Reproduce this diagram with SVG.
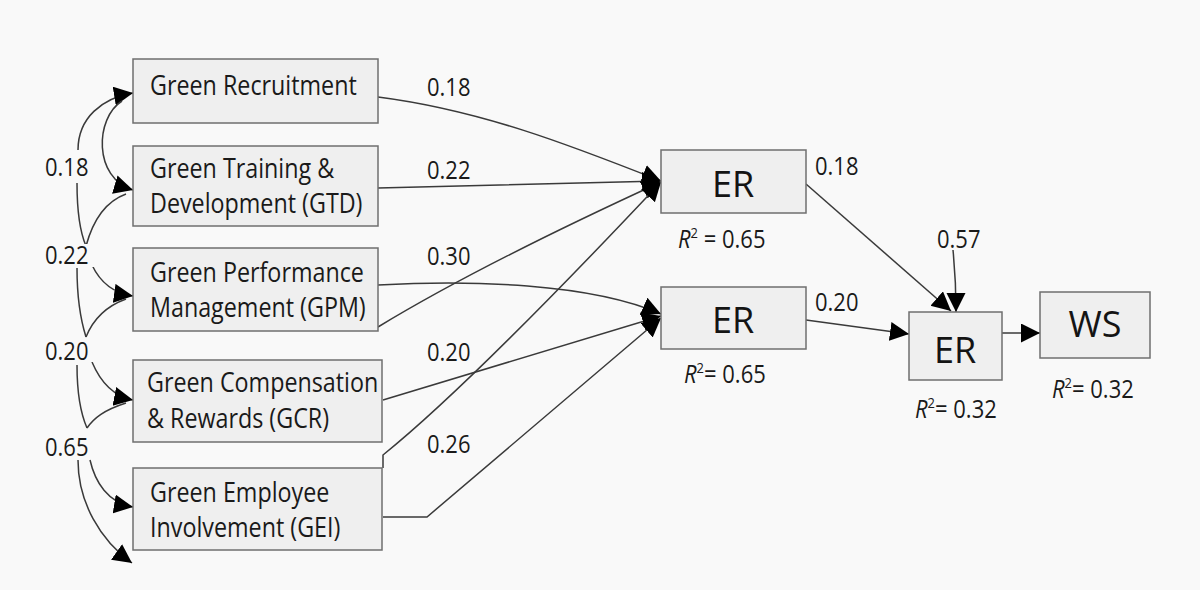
<svg xmlns="http://www.w3.org/2000/svg" width="1200" height="590" viewBox="0 0 1200 590">
<style>
.box{fill:#efefef;stroke:#6f6f6f;stroke-width:1.5}
.t{font-family:"Open Sans","Noto Sans","DejaVu Sans",sans-serif;font-size:23.3px;fill:#1a1a1a}
.big{font-family:"Open Sans","Noto Sans","DejaVu Sans",sans-serif;font-size:36px;fill:#141414;text-anchor:middle}
.n{font-family:"Open Sans","Noto Sans","DejaVu Sans",sans-serif;font-size:22px;fill:#1a1a1a}
.c{fill:none;stroke:#3a3a3a;stroke-width:1.5}
.lb{fill:#f9f9f9}
</style>
<defs>
<marker id="ah" markerUnits="userSpaceOnUse" markerWidth="20" markerHeight="20" refX="19" refY="9.5" orient="auto">
<path d="M0,0 L19,9.5 L0,19 z" fill="#000"/>
</marker>
</defs>
<rect width="1200" height="590" fill="#f9f9f9"/>

<g id="connectors">
<path class="c" d="M78,150 C78,118 102,98 133,93" marker-end="url(#ah)"/>
<path class="c" d="M122,101 C95,118 93,178 133,190" marker-end="url(#ah)"/>
<path class="c" d="M77,183 C77,212 80,232 86,246"/>
<path class="c" d="M126,194 C104,202 92,224 86,246"/>
<path class="c" d="M92,265 C100,282 112,293 133,296" marker-end="url(#ah)"/>
<path class="c" d="M77,268 C77,296 80,318 86,337"/>
<path class="c" d="M126,299 C104,307 92,322 86,337"/>
<path class="c" d="M92,362 C100,381 112,396 133,400" marker-end="url(#ah)"/>
<path class="c" d="M77,365 C77,392 80,412 87,428"/>
<path class="c" d="M126,403 C104,410 94,418 87,428"/>
<path class="c" d="M90,460 C95,482 108,503 133,507" marker-end="url(#ah)"/>
<path class="c" d="M78,460 C78,502 100,540 132,563" marker-end="url(#ah)"/>
<path class="c" d="M378,97 C480,110 570,145 661,181" marker-end="url(#ah)"/>
<path class="c" d="M378,188 C480,186 570,183 661,181" marker-end="url(#ah)"/>
<path class="c" d="M378,327 Q480,265 661,182" marker-end="url(#ah)"/>
<path class="c" d="M383,468 L383,455 Q470,385 661,182" marker-end="url(#ah)"/>
<path class="c" d="M378,285 C470,280 590,283 661,314" marker-end="url(#ah)"/>
<path class="c" d="M383,400 L661,316" marker-end="url(#ah)"/>
<path class="c" d="M383,517 L427,517 L661,318" marker-end="url(#ah)"/>
<path class="c" d="M806,184 L951,311" marker-end="url(#ah)"/>
<path class="c" d="M953,250 C955,270 956,288 956,312" marker-end="url(#ah)"/>
<path class="c" d="M806,320 L909,334" marker-end="url(#ah)"/>
<path class="c" d="M1002,333 L1040,333" marker-end="url(#ah)"/>
</g>

<g id="corr-labels">
<rect class="lb" x="44" y="150" width="50" height="32"/>
<text class="n" font-size="23" transform="translate(45,176) scale(1,1.15)">0.18</text>
<rect class="lb" x="44" y="244" width="50" height="23"/>
<text class="n" font-size="23" transform="translate(45,264) scale(1,1.15)">0.22</text>
<rect class="lb" x="44" y="338" width="50" height="24"/>
<text class="n" font-size="23" transform="translate(45,360) scale(1,1.15)">0.20</text>
<rect class="lb" x="44" y="434" width="50" height="25"/>
<text class="n" font-size="23" transform="translate(45,456) scale(1,1.15)">0.65</text>
</g>

<g id="GR">
<rect class="box" x="133" y="59" width="245" height="64"/>
<text class="t" transform="translate(150,95) scale(1,1.17)">Green Recruitment</text>
</g>
<g id="GTD">
<rect class="box" x="133" y="146" width="245" height="80"/>
<text class="t" transform="translate(150,178) scale(1,1.17)">Green Training &amp;</text>
<text class="t" transform="translate(150,213) scale(1,1.17)">Development (GTD)</text>
</g>
<g id="GPM">
<rect class="box" x="133" y="248" width="245" height="83"/>
<text class="t" transform="translate(150,282) scale(1,1.17)">Green Performance</text>
<text class="t" transform="translate(150,317) scale(1,1.17)">Management (GPM)</text>
</g>
<g id="GCR">
<rect class="box" x="133" y="360" width="249" height="82"/>
<text class="t" transform="translate(147,392) scale(1,1.17)">Green Compensation</text>
<text class="t" transform="translate(147,428) scale(1,1.17)">&amp; Rewards (GCR)</text>
</g>
<g id="GEI">
<rect class="box" x="133" y="468" width="249" height="82"/>
<text class="t" transform="translate(150,502) scale(1,1.17)">Green Employee</text>
<text class="t" transform="translate(150,537) scale(1,1.17)">Involvement (GEI)</text>
</g>

<g id="path-labels">
<text class="n" transform="translate(427,96) scale(1,1.15)">0.18</text>
<text class="n" transform="translate(427,179) scale(1,1.15)">0.22</text>
<text class="n" transform="translate(427,265) scale(1,1.15)">0.30</text>
<text class="n" transform="translate(427,361) scale(1,1.15)">0.20</text>
<text class="n" transform="translate(427,453) scale(1,1.15)">0.26</text>
<text class="n" transform="translate(815,175) scale(1,1.15)">0.18</text>
<text class="n" transform="translate(937,248) scale(1,1.15)">0.57</text>
<text class="n" transform="translate(815,311) scale(1,1.15)">0.20</text>
</g>

<g id="ER1">
<rect class="box" x="661" y="150" width="145" height="63"/>
<text class="big" x="733" y="197">ER</text>
<text class="n" transform="translate(678,248) scale(1,1.15)"><tspan font-style="italic">R</tspan><tspan font-size="13" dy="-9">2</tspan><tspan dy="9"> = 0.65</tspan></text>
</g>
<g id="ER2">
<rect class="box" x="661" y="287" width="145" height="62"/>
<text class="big" x="733" y="333">ER</text>
<text class="n" transform="translate(684,383) scale(1,1.15)"><tspan font-style="italic">R</tspan><tspan font-size="13" dy="-9">2</tspan><tspan dy="9">= 0.65</tspan></text>
</g>
<g id="ER3">
<rect class="box" x="909" y="312" width="93" height="68"/>
<text class="big" x="955" y="363">ER</text>
<text class="n" transform="translate(915,418) scale(1,1.15)"><tspan font-style="italic">R</tspan><tspan font-size="13" dy="-9">2</tspan><tspan dy="9">= 0.32</tspan></text>
</g>
<g id="WS">
<rect class="box" x="1040" y="292" width="110" height="66"/>
<text class="big" x="1095" y="337">WS</text>
<text class="n" transform="translate(1052,398) scale(1,1.15)"><tspan font-style="italic">R</tspan><tspan font-size="13" dy="-9">2</tspan><tspan dy="9">= 0.32</tspan></text>
</g>
</svg>
